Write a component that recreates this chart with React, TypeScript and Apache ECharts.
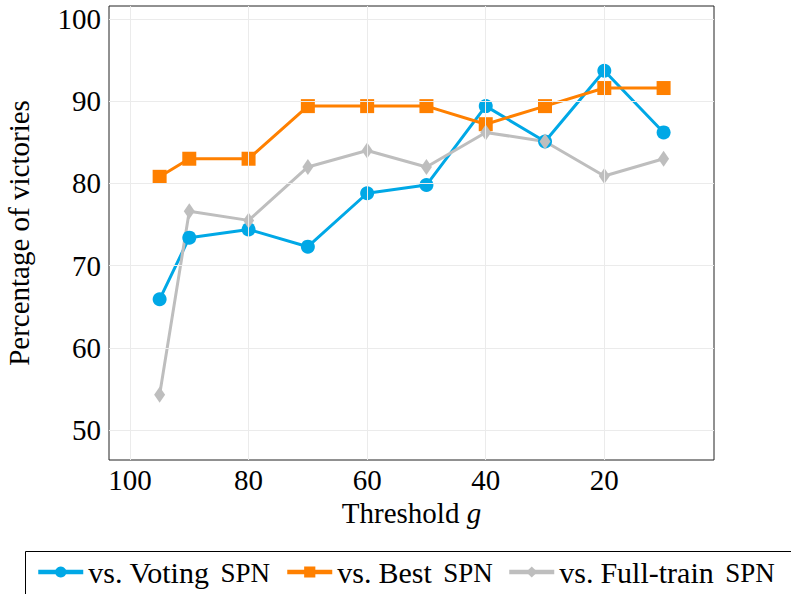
import React, { useEffect, useRef } from "react";
import * as echarts from "echarts";

const thresholds = [95, 90, 80, 70, 60, 50, 40, 30, 20, 10];
const votingValues = [65.9, 73.4, 74.4, 72.3, 78.8, 79.8, 89.4, 85.1, 93.7, 86.2];
const bestValues = [80.8, 83.0, 83.0, 89.4, 89.4, 89.4, 87.2, 89.4, 91.6, 91.6];
const fullTrainValues = [54.3, 76.6, 75.5, 82.0, 84.0, 82.0, 86.2, 85.1, 80.9, 83.0];
const xTicks = [20, 40, 60, 80, 100];
const yTicks = [50, 60, 70, 80, 90, 100];
const seriesNames = ["vs. Voting SPN", "vs. Best SPN", "vs. Full-train SPN"];

const FONT = "Liberation Serif";

export default function App() {
  const ref = useRef<HTMLDivElement>(null);
  useEffect(() => {
    if (!ref.current) return;
    const chart = echarts.init(ref.current, null, { renderer: "svg" });
    const pair = (vals: number[]) => thresholds.map((t, i) => [t, vals[i]]);
    const xBase = {
      type: "value" as const,
      min: 1.5,
      max: 103.54,
      inverse: true,
      axisLine: { show: false },
      axisTick: { show: true, inside: true, length: 5, customValues: xTicks, lineStyle: { color: "#555", width: 1 } },
      splitLine: { show: false },
    };
    const yBase = {
      type: "value" as const,
      min: 46.35,
      max: 101.58,
      axisLine: { show: false },
      axisTick: { show: true, inside: true, length: 5, customValues: yTicks, lineStyle: { color: "#555", width: 1 } },
      splitLine: { show: false },
    };
    const mkSeries = (name: string, vals: number[], color: string, symbol: string, size: number | number[]) => ({
      name,
      type: "line",
      data: pair(vals),
      symbol,
      symbolSize: size,
      lineStyle: { color, width: 3 },
      itemStyle: { color },
      z: 3,
    });
    const legendText = {
      fontFamily: FONT,
      fontSize: 30,
      color: "#000",
      rich: {
        a: { fontFamily: FONT, fontSize: 30, color: "#000", padding: [0, 7, 0, 0] },
        t: { fontFamily: FONT, fontSize: 30, color: "#000", padding: [0, 4, 0, 0] },
        s: { fontFamily: FONT, fontSize: 27, color: "#000", padding: [2, 0, 0, 0] },
      },
    };
    const mkLegend = (name: string, left: number) => ({
      show: true,
      left,
      top: 557,
      itemWidth: 45,
      itemHeight: 14,
      itemGap: 0,
      padding: 0,
      lineStyle: { width: 4.5 },
      textStyle: legendText,
      formatter: (n: string) => {
        const base = n.replace(" SPN", "").replace("vs. ", "");
        return "{a|vs.}{t|" + base + " }{s|SPN}";
      },
      data: [name],
    });
    chart.setOption({
      animation: false,
      backgroundColor: "#fff",
      textStyle: { fontFamily: FONT },
      grid: { left: 109, top: 6, right: 77, bottom: 134, show: true, borderColor: "#222", borderWidth: 1, outerBoundsMode: "none" },
      xAxis: [
        {
          ...xBase,
          position: "bottom",
          name: "{n|Threshold }{i|g}",
          nameLocation: "middle",
          nameGap: 38,
          nameTextStyle: {
            fontFamily: FONT,
            fontSize: 29,
            rich: {
              n: { fontFamily: FONT, fontSize: 29, color: "#000" },
              i: { fontFamily: FONT, fontSize: 29, fontStyle: "italic", color: "#000" },
            },
          },
          axisLabel: { show: true, customValues: xTicks, fontFamily: FONT, fontSize: 29, color: "#000", margin: 5 },
        },
        { ...xBase, position: "top", axisLabel: { show: false } },
      ],
      yAxis: [
        {
          ...yBase,
          position: "left",
          name: "Percentage of victories",
          nameLocation: "middle",
          nameGap: 76,
          nameRotate: 90,
          nameTextStyle: { fontFamily: FONT, fontSize: 29, color: "#000" },
          axisLabel: { show: true, customValues: yTicks, fontFamily: FONT, fontSize: 29, color: "#000", margin: 8 },
        },
        { ...yBase, position: "right", axisLabel: { show: false } },
      ],
      legend: [mkLegend(seriesNames[0], 36), mkLegend(seriesNames[1], 285), mkLegend(seriesNames[2], 507)],
      graphic: [
        {
          type: "rect",
          shape: { x: 25.5, y: 551.5, width: 800, height: 60 },
          style: { fill: "none", stroke: "#000", lineWidth: 1 },
          silent: true,
        },
      ],
      series: [
        {
          name: "grid",
          type: "line",
          data: [],
          z: 1,
          silent: true,
          markLine: {
            silent: true,
            symbol: ["none", "none"],
            label: { show: false },
            lineStyle: { color: "#ebebeb", width: 1, type: "solid" },
            emphasis: { disabled: true },
            data: [
              ...xTicks.map((v) => ({ xAxis: v })),
              ...yTicks.map((v) => ({ yAxis: v })),
            ],
          },
        },
        mkSeries(seriesNames[0], votingValues, "#00A8E6", "circle", 14),
        mkSeries(seriesNames[1], bestValues, "#FF8000", "rect", 14),
        mkSeries(seriesNames[2], fullTrainValues, "#BEBEBE", "diamond", [11, 16]),
      ],
    });
    return () => chart.dispose();
  }, []);
  return <div ref={ref} style={{ width: 791, height: 594, position: "absolute", left: 0, top: 0 }} />;
}
